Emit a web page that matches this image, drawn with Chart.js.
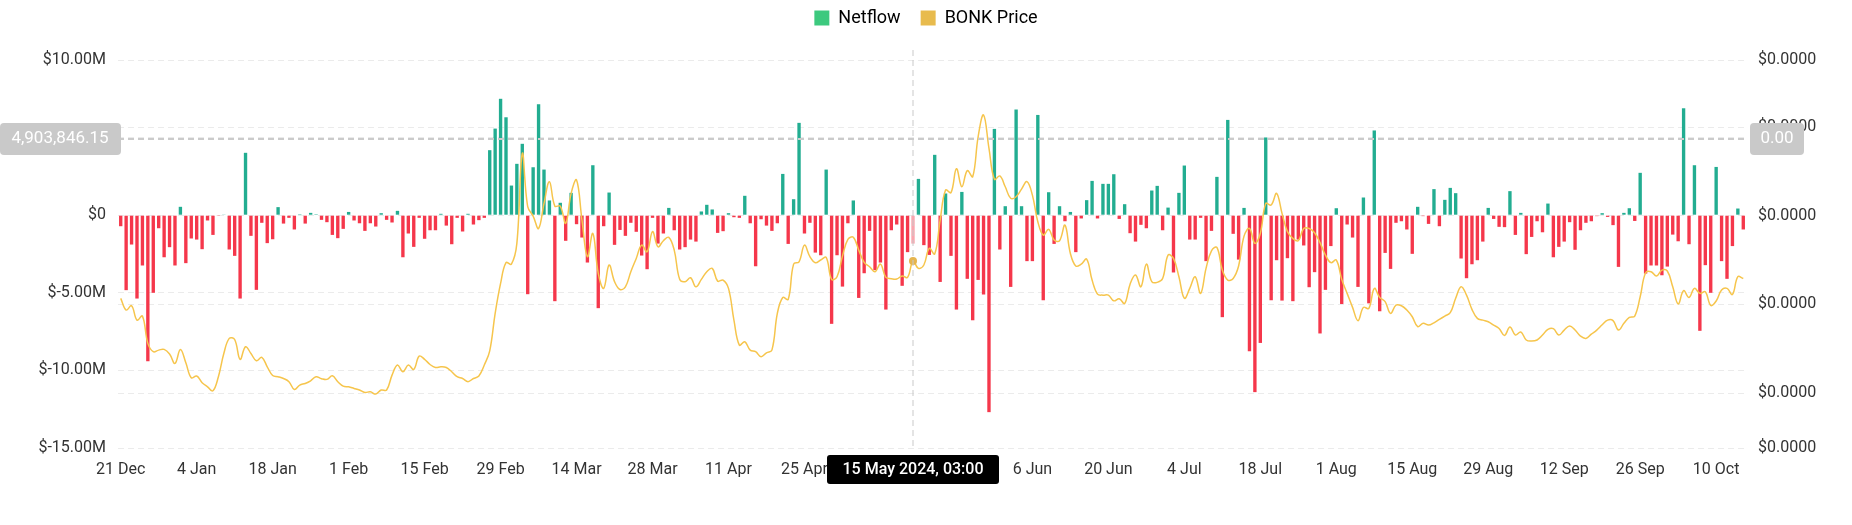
<!DOCTYPE html>
<html>
<head>
<meta charset="utf-8">
<title>BONK Netflow vs Price</title>
<script src="https://cdn.jsdelivr.net/npm/chart.js@4/dist/chart.umd.min.js"></script>
<style>
  html, body { margin: 0; padding: 0; background: #fff; }
  #wrap { width: 1852px; height: 525px; }
</style>
</head>
<body>
<div id="wrap"><canvas id="myChart" width="1852" height="525"></canvas></div>
<script>
// first day of the daily series (21 Dec 2023)
const startYear = 2023, startMonth = 11, startDate = 21;

// labels shown on the x axis, one every 14 days
const tickLabels = ['21 Dec', '4 Jan', '18 Jan', '1 Feb', '15 Feb', '29 Feb', '14 Mar', '28 Mar',
  '11 Apr', '25 Apr', '9 May', '23 May', '6 Jun', '20 Jun', '4 Jul', '18 Jul', '1 Aug',
  '15 Aug', '29 Aug', '12 Sep', '26 Sep', '10 Oct'];

// daily netflow, USD millions
const netflowM = [
  -0.71, -4.83, -1.89, -5.37, -3.24, -9.41, -5.00, -0.84, -2.71, -2.06,
  -3.24, 0.54, -3.09, -1.50, -1.57, -2.19, -0.34, -1.27, -0.05, 0.02,
  -2.21, -2.62, -5.37, 4.02, -1.33, -4.81, -0.49, -1.80, -1.55, 0.52,
  -0.54, -0.17, -0.92, 0.06, -0.54, 0.15, 0.06, -0.30, -0.45, -1.27,
  -1.48, -0.88, 0.21, -0.34, -0.52, -1.01, -0.52, -0.73, 0.13, -0.30,
  -0.47, 0.28, -2.71, -1.18, -2.04, -0.17, -1.52, -0.97, -0.97, 0.09,
  -0.67, -1.87, -0.17, -1.05, 0.09, -0.60, -0.32, -0.17, 4.19, 5.58,
  7.50, 6.31, 1.91, 3.31, 4.60, -5.09, 3.09, 7.15, 2.94, 0.95,
  -5.54, 0.80, -1.65, 1.44, -0.58, -1.44, -3.05, 3.22, -5.99, -0.71,
  1.46, -1.91, -0.95, -1.33, -0.49, -1.07, -2.60, -3.48, -0.17, -1.83,
  -1.18, 0.47, -0.97, -2.21, -2.06, -1.57, -1.70, 0.24, 0.67, 0.37,
  -1.14, -1.03, 0.13, -0.13, -0.17, 1.25, -0.52, -3.29, -0.26, -0.67,
  -1.01, -0.52, 2.66, -1.85, 1.03, 5.95, -1.18, -0.49, -2.41, -2.58,
  2.94, -7.00, -2.58, -4.60, -0.52, 0.95, -5.33, -3.74, -1.01, -3.54,
  -3.05, -6.08, -0.97, -0.60, -4.55, -2.38, -1.83, 2.34, -1.93, -2.56,
  3.89, -4.30, 1.40, -2.62, -6.08, 1.50, -4.10, -6.77, -4.17, -5.11,
  -12.69, 5.56, -2.21, 0.58, -4.62, 6.81, 0.58, -2.96, -2.96, 6.46,
  -5.48, 1.48, -1.85, 0.58, -0.39, 0.21, -2.38, -0.21, 0.97, 2.21,
  -0.21, 2.02, 2.02, 2.64, -0.24, 0.71, -1.16, -1.70, -0.62, -0.84,
  1.59, 1.89, -0.97, 0.49, -3.69, 1.44, 3.20, -1.57, -1.57, -0.17,
  -2.96, -1.01, 2.47, -6.57, 6.14, -1.20, -2.86, 0.47, -8.76, -11.40,
  -8.23, 5.01, -5.48, -2.90, -5.50, -2.77, -5.54, -1.57, -1.95, -4.64,
  -3.67, -7.62, -4.81, -1.99, 0.45, -5.72, -0.60, -1.44, -4.62, 1.14,
  -5.68, 5.46, -6.19, -2.43, -3.46, -0.49, -0.39, -0.92, -2.49, 0.54,
  -0.06, -0.56, 1.68, -0.71, 0.99, 1.76, 1.42, -2.79, -4.06, -3.16,
  -2.90, -1.70, 0.47, -0.24, -0.75, -0.77, 1.55, -1.27, 0.15, -2.51,
  -1.40, -0.39, -1.10, 0.75, -2.71, -2.04, -1.70, -0.45, -2.23, -0.97,
  -0.49, -0.39, -0.06, 0.13, -0.11, -0.64, -3.33, 0.15, 0.45, -0.37,
  2.73, -3.76, -3.24, -3.24, -3.87, -3.31, -1.25, -1.68, 6.89, -1.87,
  3.22, -7.45, -3.22, -5.00, 3.11, -2.96, -4.10, -1.99, 0.43, -0.92
];

// daily BONK price, in millionths of a USD
const bonkPriceMicro = [
  15.34, 14.68, 14.92, 14.11, 14.34, 12.80, 12.33, 12.42, 12.46, 12.20,
  11.67, 12.46, 11.71, 10.86, 10.96, 10.58, 10.35, 10.13, 10.92, 12.23,
  13.08, 13.02, 11.90, 12.61, 12.23, 11.82, 12.01, 11.48, 10.99, 10.92,
  10.82, 10.64, 10.20, 10.45, 10.54, 10.69, 10.92, 10.81, 10.77, 10.97,
  10.64, 10.39, 10.35, 10.26, 10.17, 10.03, 10.07, 9.94, 10.17, 10.17,
  11.01, 11.58, 11.20, 11.58, 11.33, 12.08, 11.90, 11.61, 11.44, 11.48,
  11.44, 11.20, 10.92, 10.82, 10.64, 10.82, 10.96, 11.58, 12.38, 14.49,
  16.18, 17.35, 17.27, 18.44, 23.51, 20.51, 19.98, 19.28, 20.69, 21.92,
  20.54, 20.54, 19.57, 21.26, 22.01, 19.75, 17.69, 19.00, 16.75, 15.90,
  17.22, 16.28, 15.84, 15.99, 16.84, 17.59, 18.34, 17.97, 19.10, 18.25,
  18.59, 18.78, 18.06, 16.41, 16.28, 16.50, 15.99, 16.41, 16.84, 17.03,
  16.31, 16.37, 15.90, 14.11, 12.70, 12.89, 12.42, 12.33, 12.05, 12.27,
  12.42, 14.49, 15.39, 15.28, 17.27, 17.40, 18.34, 17.69, 17.35, 17.50,
  17.65, 16.41, 16.56, 17.72, 18.66, 18.78, 18.06, 17.37, 17.12, 16.84,
  17.27, 16.52, 16.45, 16.43, 16.60, 16.52, 17.44, 17.03, 17.22, 18.16,
  17.84, 19.75, 21.45, 21.30, 22.65, 21.63, 22.54, 22.20, 24.45, 25.68,
  23.80, 22.05, 22.24, 21.63, 20.98, 21.07, 21.50, 21.92, 21.16, 19.66,
  18.91, 19.23, 18.63, 18.59, 19.47, 17.87, 17.16, 17.27, 17.55, 16.37,
  15.58, 15.52, 15.52, 15.20, 15.32, 15.05, 16.14, 16.65, 15.99, 17.27,
  16.28, 16.24, 16.46, 17.78, 17.59, 16.56, 15.34, 15.90, 16.56, 15.62,
  17.03, 18.02, 18.21, 16.93, 16.37, 16.46, 17.16, 18.85, 19.28, 18.44,
  19.00, 20.69, 20.60, 21.26, 20.13, 19.10, 18.72, 18.59, 19.28, 19.28,
  19.04, 18.48, 17.78, 17.35, 17.50, 16.41, 15.62, 14.83, 14.08, 14.83,
  14.77, 15.90, 15.39, 15.15, 14.49, 14.96, 14.92, 14.68, 14.30, 13.74,
  13.93, 13.83, 13.96, 14.15, 14.34, 14.53, 15.34, 15.99, 15.52, 14.72,
  14.21, 14.11, 14.02, 13.83, 13.64, 13.25, 13.72, 13.27, 13.44, 12.99,
  12.93, 12.99, 13.27, 13.59, 13.63, 13.27, 13.55, 13.78, 13.55, 13.21,
  13.08, 13.32, 13.55, 13.85, 14.11, 14.08, 13.55, 13.93, 14.26, 14.34,
  15.43, 16.78, 16.84, 16.60, 16.93, 16.88, 15.99, 15.02, 15.77, 15.39,
  15.90, 15.62, 15.71, 14.94, 15.19, 15.81, 15.90, 15.56, 16.56, 16.46
];

// right axis tick values (millionths of a USD)
const priceTicks = [6.9, 10, 15, 20, 25, 28.78];

// hovered point shown by the crosshair
const hoverIndex = 146;
const hoverNetflowM = 4.90384615;
const hoverDateText = '15 May 2024, 03:00';
const hoverLeftText = '4,903,846.15';
const hoverRightText = '0.00';

const green = '#22ad91';
const red = '#f5374b';
const yellow = '#f6c54c';

// one category per day
const days = [];
for (let i = 0; i < netflowM.length; i++) {
    const d = new Date(Date.UTC(startYear, startMonth, startDate + i));
    days.push(d.toISOString().slice(0, 10));
}

Chart.defaults.font.family = 'Roboto, "Noto Sans", sans-serif';
Chart.defaults.color = '#333';

function roundBox(ctx, x, y, w, h, r, fill) {
    ctx.beginPath();
    ctx.moveTo(x + r, y);
    ctx.arcTo(x + w, y, x + w, y + h, r);
    ctx.arcTo(x + w, y + h, x, y + h, r);
    ctx.arcTo(x, y + h, x, y, r);
    ctx.arcTo(x, y, x + w, y, r);
    ctx.closePath();
    ctx.fillStyle = fill;
    ctx.fill();
}

// crosshair lines and the three value boxes
const crosshair = {
    id: 'crosshair',
    afterInit(chart) {
        // give the legend the whole strip above the plot
        const lg = chart.legend;
        const fit = lg.fit;
        lg.fit = function () { fit.call(this); this.height = 71; };
    },
    afterDatasetsDraw(chart) {
        const ctx = chart.ctx;
        const area = chart.chartArea;
        const x = chart.scales.x.getPixelForValue(hoverIndex);
        const y = chart.scales.y.getPixelForValue(hoverNetflowM);

        ctx.save();
        ctx.setLineDash([6, 4]);
        ctx.lineWidth = 1;
        ctx.strokeStyle = '#c9c9c9';
        ctx.beginPath();
        ctx.moveTo(x, 50);
        ctx.lineTo(x, area.bottom);
        ctx.stroke();

        ctx.lineWidth = 2;
        ctx.strokeStyle = '#cbcbcb';
        ctx.beginPath();
        ctx.moveTo(area.left, y);
        ctx.lineTo(area.right, y);
        ctx.stroke();
        ctx.setLineDash([]);

        ctx.textAlign = 'center';
        ctx.textBaseline = 'middle';
        ctx.font = '17px Roboto, "Noto Sans", sans-serif';

        roundBox(ctx, 0, y - 16, 121, 32, 4, '#c9c9c9');
        ctx.fillStyle = '#fff';
        ctx.fillText(hoverLeftText, 60, y);

        roundBox(ctx, area.right + 4, y - 16, 54, 32, 4, '#c9c9c9');
        ctx.fillStyle = '#fff';
        ctx.fillText(hoverRightText, area.right + 31, y);

        roundBox(ctx, x - 86, area.bottom + 7, 172, 29, 3, '#000');
        ctx.fillStyle = '#fff';
        ctx.font = '500 16px Roboto, "Noto Sans", sans-serif';
        ctx.fillText(hoverDateText, x, area.bottom + 22);
        ctx.restore();
    }
};

const ctx = document.getElementById('myChart');
const myChart = new Chart(ctx, {
    type: 'bar',
    data: {
        labels: days,
        datasets: [{
            type: 'bar',
            label: 'Netflow',
            data: netflowM,
            yAxisID: 'y',
            order: 2,
            backgroundColor: c => {
                if (c.dataIndex === hoverIndex) return 'rgba(245, 55, 75, 0.45)';
                return c.raw >= 0 ? green : red;
            },
            borderWidth: 0,
            barPercentage: 0.62,
            categoryPercentage: 1
        }, {
            type: 'line',
            label: 'BONK Price',
            data: bonkPriceMicro,
            yAxisID: 'y1',
            order: 1,
            borderColor: yellow,
            borderWidth: 1.5,
            tension: 0.4,
            fill: false,
            pointRadius: c => c.dataIndex === hoverIndex ? 4 : 0,
            pointBackgroundColor: '#e6b54e',
            pointBorderWidth: 0
        }]
    },
    options: {
        responsive: false,
        animation: false,
        devicePixelRatio: 1,
        events: [],
        layout: { padding: { top: -11, left: 0, right: 0, bottom: 0 } },
        plugins: {
            tooltip: { enabled: false },
            legend: {
                position: 'top',
                labels: {
                    boxWidth: 15,
                    boxHeight: 15,
                    padding: 20,
                    color: '#3a3a3a',
                    font: { size: 18 },
                    generateLabels: () => [
                        { text: 'Netflow', fillStyle: '#3cc97e', strokeStyle: '#3cc97e', lineWidth: 0, datasetIndex: 0 },
                        { text: 'BONK Price', fillStyle: '#e8bb4d', strokeStyle: '#e8bb4d', lineWidth: 0, datasetIndex: 1 }
                    ]
                }
            }
        },
        scales: {
            x: {
                offset: true,
                grid: { display: false },
                border: { display: false },
                afterFit: s => { s.height = 77; },
                ticks: {
                    autoSkip: false,
                    maxRotation: 0,
                    padding: 4,
                    font: { size: 16 },
                    color: '#333',
                    callback: (v, i) => i % 14 === 0 ? tickLabels[i / 14] : null
                }
            },
            y: {
                position: 'left',
                min: -15,
                max: 10,
                afterFit: s => { s.width = 118; },
                grid: { color: '#ebebeb', drawTicks: false },
                border: { display: false, dash: [6, 4] },
                ticks: {
                    stepSize: 5,
                    padding: 12,
                    font: { size: 16 },
                    color: '#333',
                    callback: v => v === 0 ? '$0' : '$' + v.toFixed(2) + 'M'
                }
            },
            y1: {
                position: 'right',
                min: priceTicks[0],
                max: priceTicks[priceTicks.length - 1],
                afterFit: s => { s.width = 106; },
                afterBuildTicks: s => { s.ticks = priceTicks.map(v => ({ value: v })); },
                grid: { color: '#ebebeb', drawTicks: false },
                border: { display: false, dash: [6, 4] },
                ticks: {
                    padding: 12,
                    font: { size: 16 },
                    color: '#333',
                    callback: v => '$' + (v / 1e6).toFixed(4)
                }
            }
        }
    },
    plugins: [crosshair]
});
</script>
</body>
</html>
